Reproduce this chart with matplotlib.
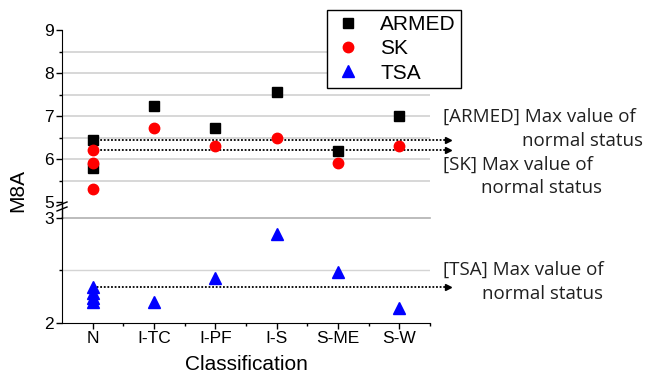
import matplotlib
matplotlib.use("Agg")
import matplotlib.pyplot as plt
from matplotlib.lines import Line2D

categories = ["N", "I-TC", "I-PF", "I-S", "S-ME", "S-W"]

# M8A values per classification (several runs for the normal status "N")
armed = {"N": [6.45, 5.79], "I-TC": [7.23], "I-PF": [6.73], "I-S": [7.55],
         "S-ME": [6.18], "S-W": [7.0]}
sk = {"N": [6.21, 5.90, 5.31], "I-TC": [6.72], "I-PF": [6.31], "I-S": [6.48],
      "S-ME": [5.90], "S-W": [6.30]}
tsa = {"N": [2.34, 2.29, 2.24, 2.20], "I-TC": [2.20], "I-PF": [2.43], "I-S": [2.85],
       "S-ME": [2.49], "S-W": [2.14]}

plt.rcParams["font.family"] = ["Liberation Sans", "DejaVu Sans"]
note_font = ["Open Sans", "DejaVu Sans"]

W, H = 647, 380
fig = plt.figure(figsize=(W / 100, H / 100), dpi=100)

def px_box(x0, y0, x1, y1):
    return [x0 / W, 1 - y1 / H, (x1 - x0) / W, (y1 - y0) / H]

ax_top = fig.add_axes(px_box(62, 30, 430, 202))
ax_bot = fig.add_axes(px_box(62, 218, 430, 323))

def points(data):
    xs, ys = [], []
    for i, c in enumerate(categories):
        for v in data[c]:
            xs.append(i)
            ys.append(v)
    return xs, ys

grid_c = "#d4d4d4"
for ax in (ax_top, ax_bot):
    ax.set_xlim(-0.5, len(categories) - 0.5)
    for s in ("top", "right"):
        ax.spines[s].set_visible(False)
    ax.tick_params(axis="both", which="major", direction="out", length=4,
                   width=1, labelsize=12.5, pad=2)
    ax.tick_params(axis="both", which="minor", direction="out", length=2.5, width=1)

ax_top.set_ylim(5, 9)
ax_top.set_yticks([5, 6, 7, 8, 9])
ax_top.set_yticks([5.5, 6.5, 7.5, 8.5], minor=True)
ax_top.spines["bottom"].set_visible(False)
ax_top.set_xticks([])
for g in [5.5, 6, 6.5, 7, 7.5, 8, 8.5]:
    ax_top.axhline(g, color=grid_c, lw=1.3, zorder=0)

ax_bot.set_ylim(2, 3)
ax_bot.set_yticks([2, 3])
ax_bot.set_yticks([2.5], minor=True)
ax_bot.set_xticks(range(len(categories)))
ax_bot.set_xticklabels(categories)
ax_bot.set_xticks([i + 0.5 for i in range(len(categories))], minor=True)
ax_bot.axhline(3, color="#b0b0b0", lw=1.2, zorder=0, clip_on=False)
ax_bot.axhline(2.5, color=grid_c, lw=1.0, zorder=0)

x, y = points(armed)
ax_top.plot(x, y, "s", color="black", ms=6.8, zorder=3, clip_on=False, label="ARMED")
x, y = points(sk)
ax_top.plot(x, y, "o", color="red", ms=7.5, zorder=4, clip_on=False, label="SK")
x, y = points(tsa)
ax_bot.plot(x, y, "^", color="blue", ms=8, zorder=3, clip_on=False, label="TSA")

# dotted reference lines at the maximum of normal status
arrow_end = 5.8
for ax, vals in ((ax_top, armed["N"]), (ax_top, sk["N"]), (ax_bot, tsa["N"])):
    m = max(vals)
    ax.plot([0, arrow_end], [m, m], color="black", lw=1.3, ls=(0, (1, 1)),
            clip_on=False, zorder=2)
    ax.plot([arrow_end], [m], ">", color="black", ms=4, clip_on=False, zorder=2)

# continuous left axis through the break, with the // symbol
fig.add_artist(Line2D([62 / W, 62 / W], [1 - 218 / H, 1 - 202 / H], color="black", lw=1))
for yb in (204, 209):
    fig.add_artist(Line2D([57 / W, 67 / W], [1 - (yb + 2) / H, 1 - (yb - 2) / H],
                          color="black", lw=1))

handles = [Line2D([], [], marker="s", ls="", color="black", ms=6.8),
           Line2D([], [], marker="o", ls="", color="red", ms=7.5),
           Line2D([], [], marker="^", ls="", color="blue", ms=8)]
fig.legend(handles, ["ARMED", "SK", "TSA"], loc="upper left",
           bbox_to_anchor=(327 / W, 1 - 10 / H), fontsize=15, frameon=True,
           fancybox=False, edgecolor="black", framealpha=1, borderpad=0.25,
           labelspacing=0.25, handletextpad=0.8, handlelength=1.5,
           borderaxespad=0)

notes = [
    ("[ARMED] Max value of", 443, 117, "left"),
    ("normal status", 643, 141, "right"),
    ("[SK] Max value of", 443, 165, "left"),
    ("normal status", 602, 188, "right"),
    ("[TSA] Max value of", 443, 270, "left"),
    ("normal status", 603, 294, "right"),
]
for txt, px, py, ha in notes:
    fig.text(px / W, 1 - py / H, txt, ha=ha, va="center", fontsize=13.5,
             family=note_font, color="#202020")

fig.text(246 / W, 1 - 365 / H, "Classification", ha="center", va="center", fontsize=15)
fig.text(18 / W, 1 - 191 / H, "M8A", ha="center", va="center", fontsize=15, rotation=90)

fig.savefig("out.png", dpi=100)
